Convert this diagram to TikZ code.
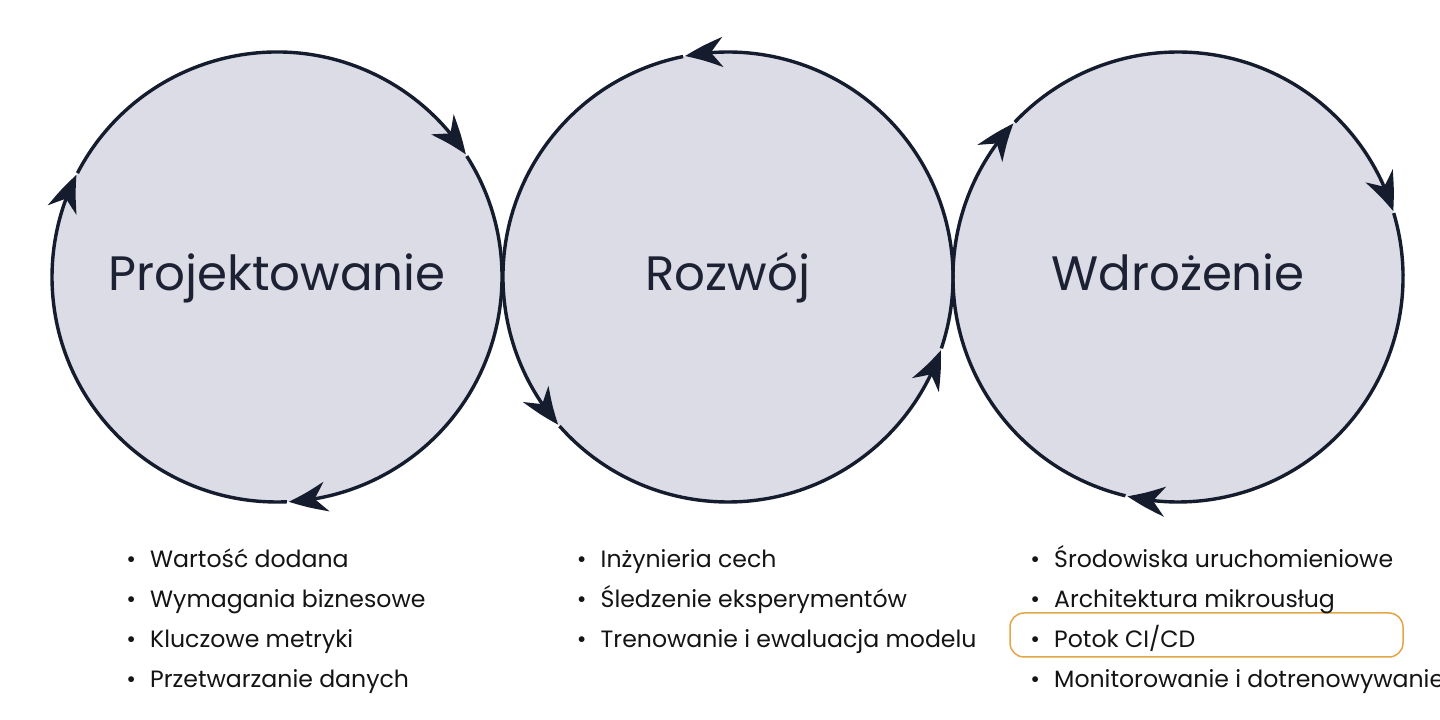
\documentclass[tikz,border=0pt]{standalone}
\usepackage{fontspec}
\setmainfont{Poppins}
\usetikzlibrary{arrows.meta,bending}
\definecolor{phasefill}{HTML}{DCDCE6}
\definecolor{phaseline}{HTML}{141C2E}
\definecolor{phasetext}{HTML}{1C2233}
\definecolor{itemtext}{HTML}{141414}
\definecolor{marker}{HTML}{E3A545}

\begin{document}
\begin{tikzpicture}[x=1pt,y=1pt,
  phase/.style={circle,fill=phasefill,minimum size=450pt,inner sep=0pt,font=\fontsize{48.3}{58}\selectfont,text=phasetext,text height=36pt,text depth=8pt},
  cycle/.style={draw=phaseline,line width=3.4pt,-{Stealth[length=38pt,width=30pt,inset=12pt,bend]}},
  item/.style={anchor=base west,inner sep=0pt,font=\fontsize{23.6}{28}\selectfont,text=itemtext,execute at begin node={\llap{•\hspace{14pt}}}},
  highlight/.style={draw=marker,line width=1.5pt,rounded corners=14pt,minimum width=393pt,minimum height=44pt,inner sep=0pt}]
\useasboundingbox[fill=white] (0,0) rectangle (1440,720);
% the three phases
\node[phase] (proj) at (277,443) {Projektowanie};
\node[phase] (rozw) at (728,443) {Rozwój};
\node[phase] (wdro) at (1178,443) {Wdrożenie};
% cycle arrows round each phase
\foreach \a in {153,33,-87}
  \draw[cycle] ([shift={({\a-0.5}:225)}]proj.center) arc[start angle=\a-0.5,end angle=\a-120,radius=225];
\foreach \a in {101,221,341}
  \draw[cycle] ([shift={({\a+0.5}:225)}]rozw.center) arc[start angle=\a+0.5,end angle=\a+120,radius=225];
\foreach \a in {137,17,-103}
  \draw[cycle] ([shift={({\a-0.5}:225)}]wdro.center) arc[start angle=\a-0.5,end angle=\a-120,radius=225];
% lists
\node[highlight] (cicd) at (1206.5,85) {};
\foreach \t [count=\i] in {Wartość dodana,Wymagania biznesowe,Kluczowe metryki,Przetwarzanie danych}
  \node[item] (proj-\i) at (150,{152.3-40*(\i-1)}) {\t};
\foreach \t [count=\i] in {Inżynieria cech,Śledzenie eksperymentów,Trenowanie i ewaluacja modelu}
  \node[item] (rozw-\i) at (600.5,{152.3-40*(\i-1)}) {\t};
\foreach \t [count=\i] in {Środowiska uruchomieniowe,Architektura mikrousług,Potok CI/CD,Monitorowanie i dotrenowywanie}
  \node[item] (wdro-\i) at (1054,{152.3-40*(\i-1)}) {\t};
\end{tikzpicture}
\end{document}
